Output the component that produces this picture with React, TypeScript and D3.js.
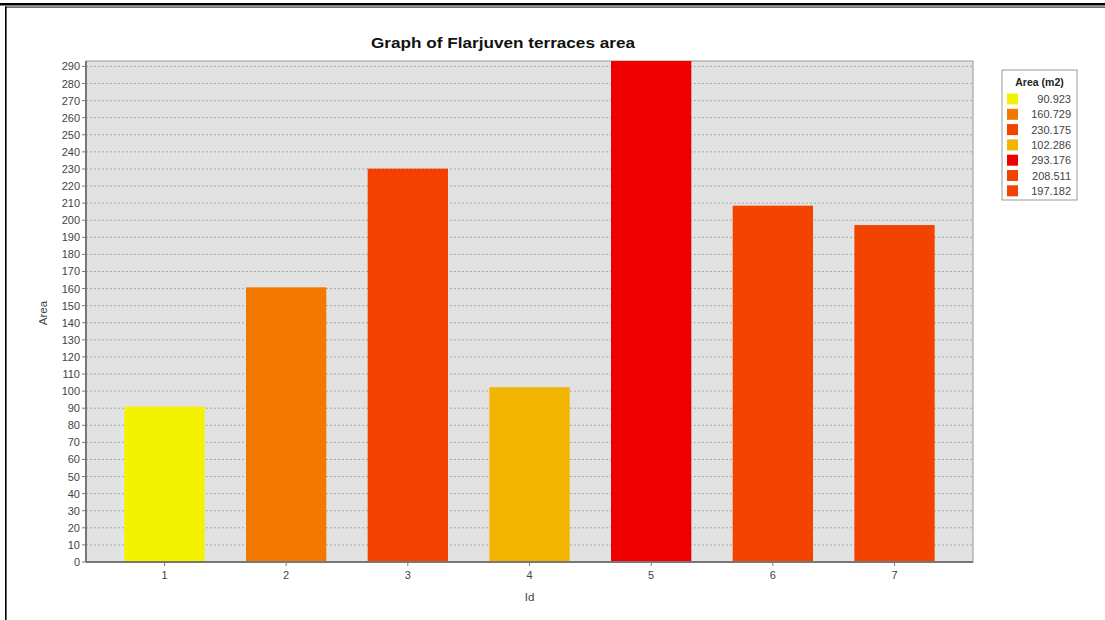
import React from "react";
import * as d3 from "d3";

const ids = ["1", "2", "3", "4", "5", "6", "7"];
const areas = [90.923, 160.729, 230.175, 102.286, 293.176, 208.511, 197.182];
const barColors = ["#f3f300", "#f27800", "#f24100", "#f3b400", "#ee0000", "#f24300", "#f24400"];
const legendLabels = ["90.923", "160.729", "230.175", "102.286", "293.176", "208.511", "197.182"];
const yTicks = d3.range(0, 291, 10);

const W = 1105;
const H = 620;
const plot = { left: 86, right: 973, top: 61, bottom: 562 };

export default function App() {
  const x = d3
    .scaleBand<string>()
    .domain(ids)
    .range([plot.left, plot.right])
    .paddingInner(0.34)
    .paddingOuter(0.315);
  const y = d3.scaleLinear().domain([0, d3.max(areas) as number]).range([plot.bottom, plot.top]);
  const font = "'Liberation Sans', Arial, sans-serif";
  const tickColor = "#444";

  return (
    <svg
      width={W}
      height={H}
      style={{ position: "absolute", left: 0, top: 0, background: "#fff" }}
      fontFamily={font}
    >
      {/* page frame */}
      <rect x={0} y={3} width={W} height={2.5} fill="#000" />
      <rect x={5} y={6.5} width={W - 5} height={1.2} fill="#333" />
      <rect x={5} y={6.5} width={1.6} height={H} fill="#000" />

      {/* title */}
      <text
        x={503}
        y={48}
        textAnchor="middle"
        fontSize={15}
        fontWeight="bold"
        fill="#111"
        textLength={264}
        lengthAdjust="spacingAndGlyphs"
      >
        Graph of Flarjuven terraces area
      </text>

      {/* plot background */}
      <rect
        x={plot.left}
        y={plot.top}
        width={plot.right - plot.left}
        height={plot.bottom - plot.top}
        fill="#e2e2e2"
        stroke="#9a9a9a"
        strokeWidth={1}
      />

      {/* gridlines */}
      {yTicks.map((t) => (
        <line
          key={"g" + t}
          x1={plot.left}
          x2={plot.right}
          y1={y(t)}
          y2={y(t)}
          stroke="#a8a8a8"
          strokeWidth={1}
          strokeDasharray="2,2"
        />
      ))}

      {/* bars */}
      {ids.map((id, i) => (
        <rect
          key={"b" + id}
          x={x(id)}
          y={y(areas[i])}
          width={x.bandwidth()}
          height={plot.bottom - y(areas[i])}
          fill={barColors[i]}
        />
      ))}

      {/* y axis */}
      <line x1={plot.left} x2={plot.left} y1={plot.top} y2={plot.bottom} stroke="#777" strokeWidth={2} />
      {yTicks.map((t) => (
        <g key={"y" + t}>
          <line x1={plot.left - 4} x2={plot.left} y1={y(t)} y2={y(t)} stroke="#777" />
          <text x={plot.left - 6} y={y(t) + 4} textAnchor="end" fontSize={11} fill={tickColor}>
            {t}
          </text>
        </g>
      ))}
      <text
        transform={`translate(47,313) rotate(-90)`}
        textAnchor="middle"
        fontSize={11.5}
        fill={tickColor}
      >
        Area
      </text>

      {/* x axis */}
      <line x1={plot.left} x2={plot.right} y1={plot.bottom} y2={plot.bottom} stroke="#777" strokeWidth={2} />
      {ids.map((id) => {
        const cx = (x(id) as number) + x.bandwidth() / 2;
        return (
          <g key={"x" + id}>
            <line x1={cx} x2={cx} y1={plot.bottom} y2={plot.bottom + 4} stroke="#777" />
            <text x={cx} y={plot.bottom + 17} textAnchor="middle" fontSize={11} fill={tickColor}>
              {id}
            </text>
          </g>
        );
      })}
      <text x={(plot.left + plot.right) / 2} y={601} textAnchor="middle" fontSize={11.5} fill={tickColor}>
        Id
      </text>

      {/* legend */}
      <rect x={1002} y={70} width={75} height={130} fill="#fff" stroke="#999" strokeWidth={1} />
      <text x={1039.5} y={86} textAnchor="middle" fontSize={10.5} fontWeight="bold" fill="#222">
        Area (m2)
      </text>
      {legendLabels.map((lab, i) => {
        const cy = 99 + i * 15.3;
        return (
          <g key={"l" + i}>
            <rect x={1007} y={cy - 5.5} width={11} height={11} fill={barColors[i]} />
            <text x={1071} y={cy + 4} textAnchor="end" fontSize={11} fill={tickColor}>
              {lab}
            </text>
          </g>
        );
      })}
    </svg>
  );
}
